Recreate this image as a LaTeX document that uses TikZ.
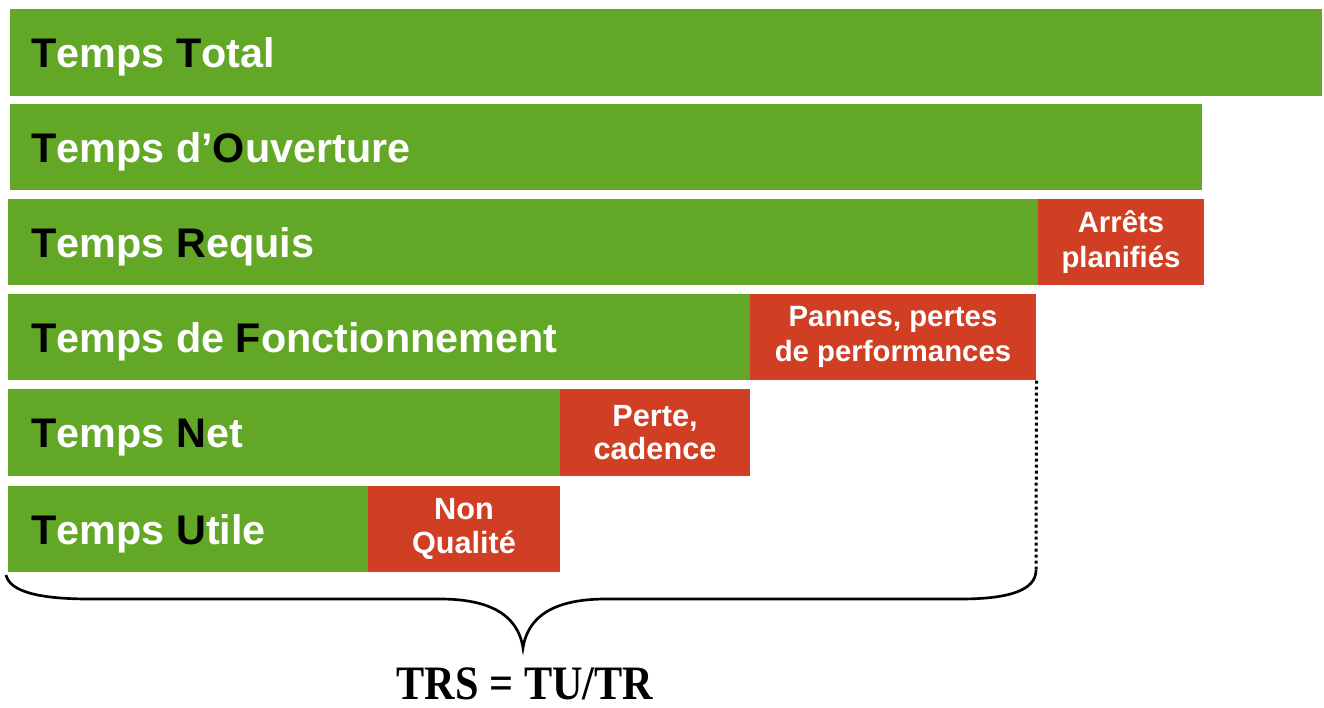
\documentclass[tikz,border=0pt]{standalone}
\usepackage{fontspec}
\setmainfont{Liberation Sans}
\newfontfamily\trsfont{Liberation Serif}
\definecolor{barGreen}{RGB}{98,167,38}
\definecolor{lossRed}{RGB}{208,62,36}
\newcommand{\ini}[1]{\textcolor{black}{#1}}
\tikzset{every picture/.style={line width=0.75pt}}
\tikzset{
  barlabel/.style={anchor=base west,inner sep=0.75pt,text=white,font=\fontsize{31}{34}\selectfont\bfseries},
  lossbox/.style={fill=lossRed,inner sep=0pt,text=white,align=center,font=\fontsize{22}{26}\selectfont\bfseries},
}

\begin{document}
\begin{tikzpicture}[x=0.75pt,y=0.75pt,yscale=-1,xscale=1]
\useasboundingbox (0,0) rectangle (1324,707);

%Shape: Rectangle
\fill [barGreen] (10,9) rectangle (1322,96) ;
%Shape: Rectangle
\fill [barGreen] (10,104) rectangle (1202,190) ;
%Shape: Rectangle
\fill [barGreen] (8,199) rectangle (1038,285) ;
%Shape: Rectangle
\fill [barGreen] (8,294) rectangle (750,380) ;
%Shape: Rectangle
\fill [barGreen] (8,389) rectangle (560,476) ;
%Shape: Rectangle
\fill [barGreen] (8,486) rectangle (368,572) ;

% Loss boxes
\node (ap) [lossbox,minimum width=124.5pt,minimum height=64.5pt] at (1121,242) {Arrêts\\planifiés};
\node (pp) [lossbox,minimum width=214.5pt,minimum height=64.5pt] at (893,337) {Pannes, pertes\\de performances};
\node (pc) [lossbox,minimum width=142.5pt,minimum height=65.25pt,font=\fontsize{23}{25}\selectfont\bfseries] at (655,432.5) {Perte,\\cadence};
\node (nq) [lossbox,minimum width=144pt,minimum height=64.5pt,font=\fontsize{23}{25}\selectfont\bfseries] at (464,529) {Non\\Qualité};

% Text Node
\draw (30,67.5) node (tt) [barlabel] {\ini{T}emps \ini{T}otal};
% Text Node
\draw (30,162) node (to) [barlabel] {\ini{T}emps d’\ini{O}uverture};
% Text Node
\draw (30,257) node (tr) [barlabel] {\ini{T}emps \ini{R}equis};
% Text Node
\draw (30,352) node (tf) [barlabel] {\ini{T}emps de \ini{F}onctionnement};
% Text Node
\draw (30,447.5) node (tn) [barlabel] {\ini{T}emps \ini{N}et};
% Text Node
\draw (30,544) node (tu) [barlabel] {\ini{T}emps \ini{U}tile};

%Straight Lines
\coordinate (bend) at (1036,570);
\draw [line width=2.25pt,dash pattern={on 2.25pt off 2.25pt}] (pp.south east) -- (bend) ;
%Curve Lines
\draw [line width=2pt] (6,575) .. controls (10,592) and (40,599) .. (90,599) -- (440,599) .. controls (490,599) and (518,615) .. (523,648) .. controls (528,615) and (556,599) .. (606,599) -- (960,599) .. controls (1010,599) and (1036,590) .. (bend) ;

% Text Node
\draw (525,699) node (trs) [anchor=base,inner sep=0.75pt] {\trsfont\fontsize{36}{38}\selectfont\bfseries\scalebox{0.88}[1]{TRS = TU/TR}};

\end{tikzpicture}
\end{document}
